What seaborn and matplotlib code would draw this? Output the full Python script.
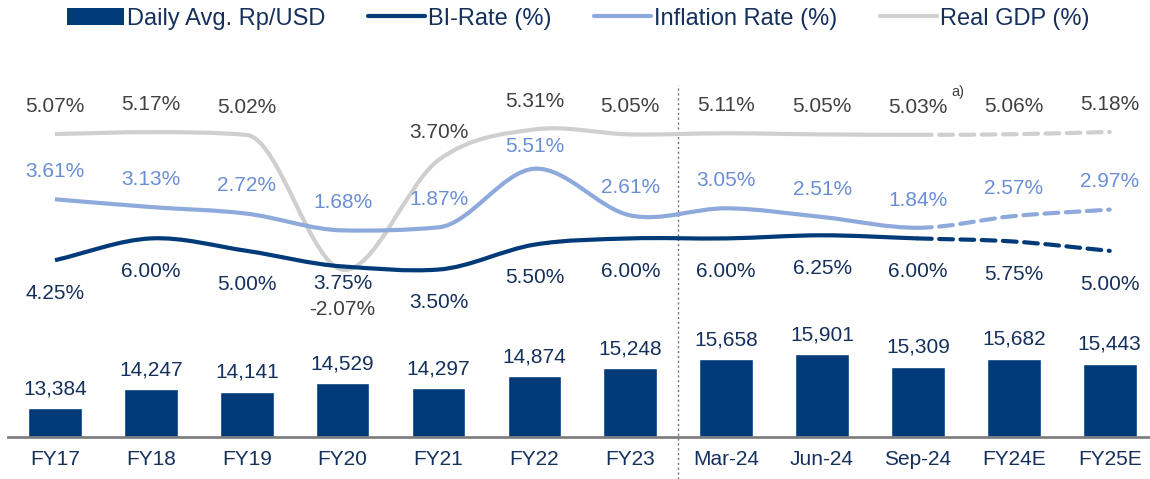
import numpy as np
import pandas as pd
import matplotlib
matplotlib.use('Agg')
import matplotlib.pyplot as plt
from matplotlib.path import Path
from matplotlib.patches import PathPatch, Patch
from matplotlib.lines import Line2D
import seaborn as sns

# data
periods = ['FY17', 'FY18', 'FY19', 'FY20', 'FY21', 'FY22', 'FY23',
           'Mar-24', 'Jun-24', 'Sep-24', 'FY24E', 'FY25E']
rp_usd = [13384, 14247, 14141, 14529, 14297, 14874, 15248,
          15658, 15901, 15309, 15682, 15443]
bi_rate = [4.25, 6.00, 5.00, 3.75, 3.50, 5.50, 6.00, 6.00, 6.25, 6.00, 5.75, 5.00]
inflation = [3.61, 3.13, 2.72, 1.68, 1.87, 5.51, 2.61, 3.05, 2.51, 1.84, 2.57, 2.97]
real_gdp = [5.07, 5.17, 5.02, -2.07, 3.70, 5.31, 5.05, 5.11, 5.05, 5.03, 5.06, 5.18]
n_actual = 10  # FY17 .. Sep-24 solid, rest dashed (estimates)

NAVY = '#003A78'
LBLUE = '#8EA9DB'
GREY = '#CFCFCF'
TXT_NAVY = '#15305C'
TXT_BLUE = '#6A8ED6'
TXT_GREY = '#404040'

sns.set_style('white')
plt.rcParams['font.family'] = ['Liberation Sans', 'DejaVu Sans']

df = pd.DataFrame({'period': periods, 'rp': rp_usd})

fig = plt.figure(figsize=(11.5, 4.79), dpi=100)
ax = fig.add_axes([8 / 1150, 42.5 / 479, 1 - 8 / 1150, 376 / 479])

sns.barplot(data=df, x='period', y='rp', order=periods, color=NAVY,
            width=0.56, saturation=1, ax=ax)
ax.set_ylim(12046, 29575)
ax.set_xlim(-0.49, 11.42)
ax.bar_label(ax.containers[0], labels=[f'{v:,}' for v in rp_usd],
             padding=7, fontsize=15, color=TXT_NAVY)
ax.set_xlabel('')
ax.set_ylabel('')
ax.set_yticks([])
ax.tick_params(axis='x', length=0, pad=10, labelsize=15, labelcolor=TXT_NAVY)
for s in ['top', 'left', 'right']:
    ax.spines[s].set_visible(False)
ax.spines['bottom'].set_color('#808080')
ax.spines['bottom'].set_linewidth(2)

# separator between fiscal years and quarters
ax.axvline(6.5, ymin=-0.114, ymax=0.934, clip_on=False,
           color='#707070', lw=1, ls=(0, (1.5, 2)))


def tangents(ys):
    # catmull-rom slopes, limited like Fritsch-Carlson so big drops don't overshoot
    ys = np.asarray(ys, float)
    d = np.diff(ys)
    m = np.empty(len(ys))
    m[0], m[-1] = d[0], d[-1]
    m[1:-1] = (d[:-1] + d[1:]) / 2
    for k in range(len(d)):
        if d[k] == 0:
            continue
        a, b = m[k] / d[k], m[k + 1] / d[k]
        if a * a + b * b > 9:
            t = 3 / np.hypot(a, b)
            m[k], m[k + 1] = t * a * d[k], t * b * d[k]
    return m


def smooth_path(xs, ys, start, stop):
    m = tangents(ys)
    verts = [(xs[start], ys[start])]
    codes = [Path.MOVETO]
    for i in range(start, stop):
        h = xs[i + 1] - xs[i]
        verts += [(xs[i] + h / 3, ys[i] + m[i] * h / 3),
                  (xs[i + 1] - h / 3, ys[i + 1] - m[i + 1] * h / 3),
                  (xs[i + 1], ys[i + 1])]
        codes += [Path.CURVE4] * 3
    return Path(verts, codes)


series = [
    # values, line colour, label colour, ylim, special label offsets, offset (pt)
    (real_gdp, GREY, TXT_GREY, (-10.85, 8.94), {3: -29}, 20),
    (inflation, LBLUE, TXT_BLUE, (-11.12, 12.23), {5: 16}, 20),
    (bi_rate, NAVY, TXT_NAVY, (-9.91, 20.29), {3: -12}, -24),
]

xs = np.arange(len(periods))
for vals, col, tcol, lim, special, off in series:
    tw = ax.twinx()
    tw.set_ylim(*lim)
    tw.axis('off')
    tw.add_patch(PathPatch(smooth_path(xs, vals, 0, n_actual - 1), fill=False,
                           edgecolor=col, lw=3, capstyle='butt'))
    tw.add_patch(PathPatch(smooth_path(xs, vals, n_actual - 1, len(vals) - 1),
                           fill=False, edgecolor=col, lw=3,
                           ls=(0, (3.3, 1.8)), capstyle='round'))
    for i, v in enumerate(vals):
        dy = special.get(i, off)
        tw.annotate(f'{v:.2f}%', (i, v), xytext=(0, dy), textcoords='offset points',
                    ha='center', va='center', fontsize=15, color=tcol)
    if vals is real_gdp:
        tw.annotate('a)', (9, vals[9]), xytext=(29, 31), textcoords='offset points',
                    ha='center', va='center', fontsize=10.5, color=TXT_GREY)

handles = [
    Patch(facecolor=NAVY, edgecolor='none'),
    Line2D([], [], color=NAVY, lw=3),
    Line2D([], [], color=LBLUE, lw=3),
    Line2D([], [], color=GREY, lw=3),
]
labels = ['Daily Avg. Rp/USD', 'BI-Rate (%)', 'Inflation Rate (%)', 'Real GDP (%)']
fig.legend(handles, labels, loc='center', bbox_to_anchor=(0.503, 0.961), ncol=4,
           frameon=False, fontsize=17, labelcolor=TXT_NAVY, handlelength=2.4,
           handletextpad=0.15, columnspacing=1.8)

fig.savefig('out.png', dpi=100)
